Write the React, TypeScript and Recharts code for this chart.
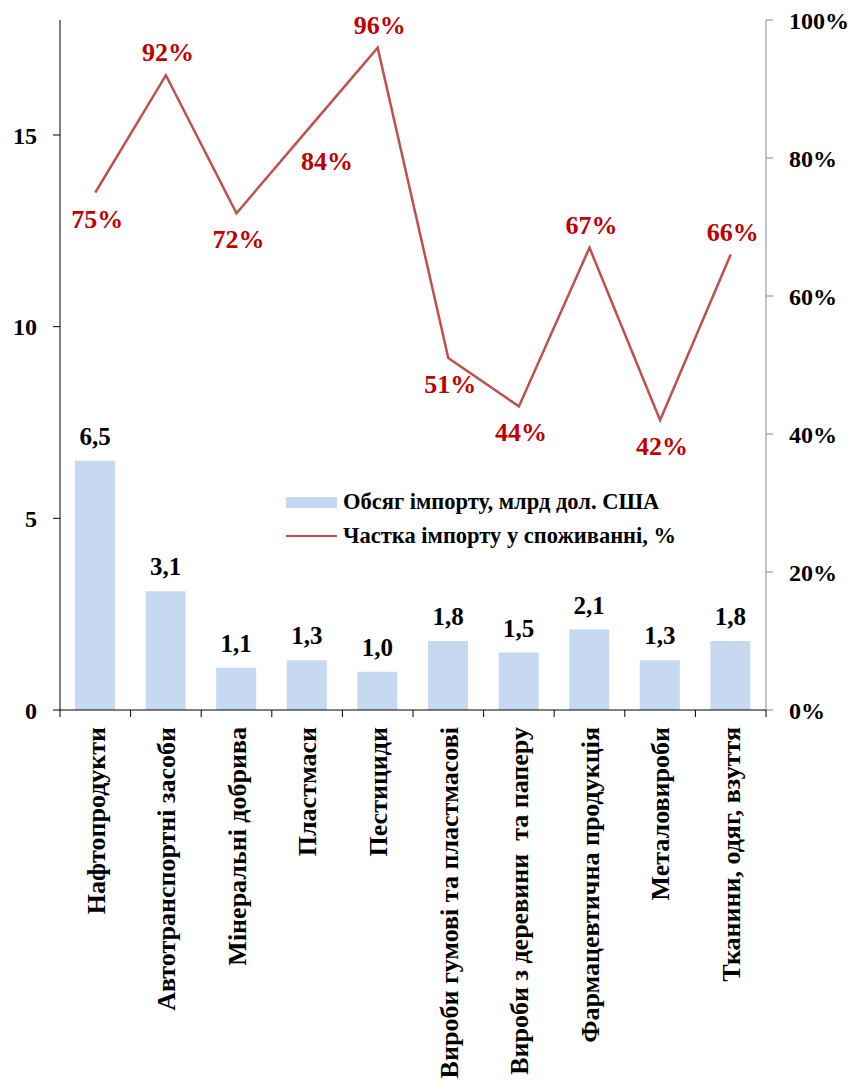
import React from 'react';
import {
    ComposedChart,
    Bar,
    Line,
    XAxis,
    YAxis,
    LabelList,
} from 'recharts';

const categories = [
    'Нафтопродукти',
    'Автотранспортні засоби',
    'Мінеральні добрива',
    'Пластмаси',
    'Пестициди',
    'Вироби гумові та пластмасові',
    'Вироби з деревини  та паперу',
    'Фармацевтична продукція',
    'Металовироби',
    'Тканини, одяг, взуття',
];

const importVolume = [6.5, 3.1, 1.1, 1.3, 1.0, 1.8, 1.5, 2.1, 1.3, 1.8];
const importShare = [0.75, 0.92, 0.72, 0.84, 0.96, 0.51, 0.44, 0.67, 0.42, 0.66];

const leftTicks = [0, 5, 10, 15];
const rightTicks = [0, 0.2, 0.4, 0.6, 0.8, 1];

// where each share label sits relative to its point
const shareLabelPlace = ['below', 'above', 'below', 'belowRight', 'above', 'below', 'below', 'above', 'below', 'above'];

const data = categories.map((name, i) => ({
    name,
    volume: importVolume[i],
    share: importShare[i],
}));

const FONT = '"Liberation Serif", "Times New Roman", serif';
const BAR_COLOR = '#C6D9F1';
const LINE_COLOR = '#C0504D';
const LABEL_RED = '#C00000';

const CategoryTick = (props: any) => {
    const { x, y, payload, index } = props;
    const half = 706 / categories.length / 2;
    return (
        <g>
            <line x1={x - half} y1={y - 8} x2={x - half} y2={y - 1} stroke="#000" />
            {index === categories.length - 1 && (
                <line x1={x + half} y1={y - 8} x2={x + half} y2={y - 1} stroke="#000" />
            )}
            <text
                x={x}
                y={y + 9}
                transform={`rotate(-90, ${x}, ${y + 9})`}
                textAnchor="end"
                dy="0.36em"
                fontFamily={FONT}
                fontWeight="bold"
                fontSize={26}
                fill="#000"
                style={{ whiteSpace: 'pre' }}
            >
                {payload.value}
            </text>
        </g>
    );
};

const ShareLabel = (props: any) => {
    const { x, y, value, index } = props;
    const place = shareLabelPlace[index];
    let dx = 2;
    let dy = -14;
    if (place === 'below') dy = 35;
    if (place === 'belowRight') {
        dx = 20;
        dy = 40;
    }
    return (
        <text
            x={x + dx}
            y={y + dy}
            textAnchor="middle"
            fontFamily={FONT}
            fontWeight="bold"
            fontSize={26}
            fill={LABEL_RED}
        >
            {`${Math.round(value * 100)}%`}
        </text>
    );
};

const LegendBox = () => (
    <div
        style={{
            position: 'absolute',
            left: 286,
            top: 485,
            fontFamily: FONT,
            fontWeight: 'bold',
            fontSize: 22.5,
            color: '#000',
            whiteSpace: 'nowrap',
        }}
    >
        <div style={{ display: 'flex', alignItems: 'center', height: 34 }}>
            <span style={{ width: 51, height: 11, background: BAR_COLOR, marginRight: 6 }} />
            Обсяг імпорту, млрд дол. США
        </div>
        <div style={{ display: 'flex', alignItems: 'center', height: 34 }}>
            <span style={{ width: 51, height: 2.5, background: LINE_COLOR, marginRight: 6 }} />
            Частка імпорту у споживанні, %
        </div>
    </div>
);

export default function App() {
    return (
        <div style={{ position: 'absolute', left: 0, top: 0, width: 857, height: 1086, background: '#fff', overflow: 'hidden' }}>
            <ComposedChart
                width={857}
                height={1086}
                data={data}
                margin={{ top: 20, right: 0, bottom: 0, left: 0 }}
            >
                <XAxis
                    dataKey="name"
                    height={376}
                    interval={0}
                    tick={<CategoryTick />}
                    tickLine={false}
                    axisLine={{ stroke: '#000' }}
                />
                <YAxis
                    yAxisId="left"
                    width={60}
                    domain={[0, 18]}
                    ticks={leftTicks}
                    allowDataOverflow
                    axisLine={{ stroke: '#000' }}
                    tickLine={{ stroke: '#000' }}
                    tickSize={7}
                    tickMargin={16}
                    tick={{ fontFamily: FONT, fontWeight: 'bold', fontSize: 24, fill: '#000' }}
                />
                <YAxis
                    yAxisId="right"
                    orientation="right"
                    width={91}
                    domain={[0, 1]}
                    ticks={rightTicks}
                    axisLine={{ stroke: '#888' }}
                    tickLine={{ stroke: '#888' }}
                    tickSize={7}
                    tickMargin={16}
                    tickFormatter={(v) => `${Math.round(v * 100)}%`}
                    tick={{ fontFamily: FONT, fontWeight: 'bold', fontSize: 24, fill: '#000', textAnchor: 'start' }}
                />
                <Bar
                    yAxisId="left"
                    dataKey="volume"
                    fill={BAR_COLOR}
                    barSize={40}
                    isAnimationActive={false}
                >
                    <LabelList
                        dataKey="volume"
                        position="top"
                        offset={16}
                        formatter={(v: any) => Number(v).toFixed(1).replace('.', ',')}
                        style={{ fontFamily: FONT, fontWeight: 'bold', fontSize: 25, fill: '#000' }}
                    />
                </Bar>
                <Line
                    yAxisId="right"
                    dataKey="share"
                    stroke={LINE_COLOR}
                    strokeWidth={2.5}
                    dot={false}
                    activeDot={false}
                    type="linear"
                    isAnimationActive={false}
                >
                    <LabelList dataKey="share" content={<ShareLabel />} />
                </Line>
            </ComposedChart>
            <LegendBox />
        </div>
    );
}
